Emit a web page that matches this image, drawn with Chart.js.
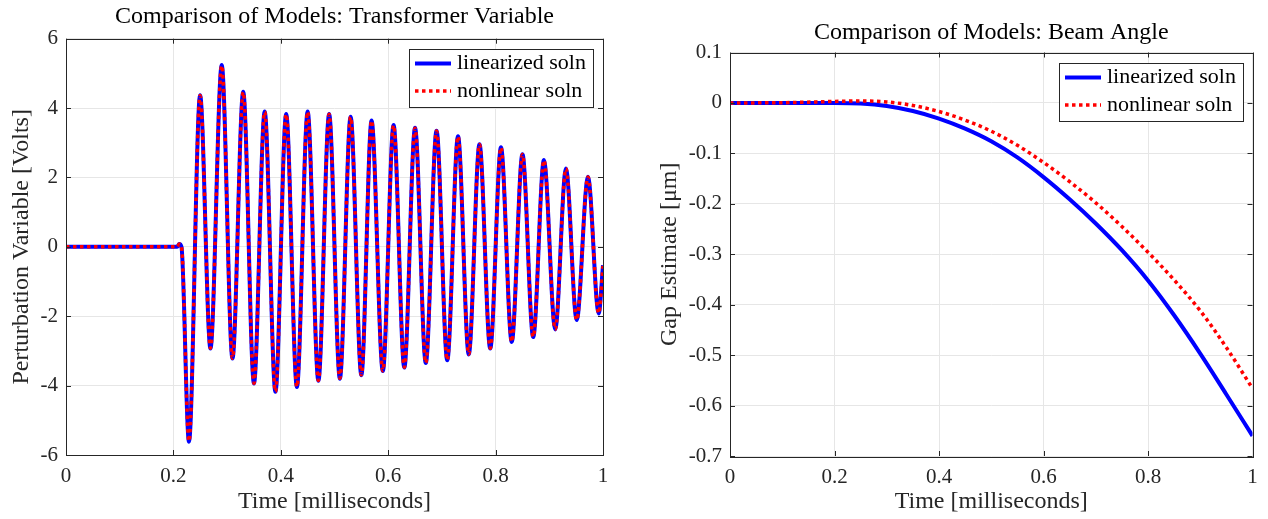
<!DOCTYPE html>
<html>
<head>
<meta charset="utf-8">
<title>Comparison of Models</title>
<script src="https://cdn.jsdelivr.net/npm/chart.js@4.4.1/dist/chart.umd.min.js"></script>
<style>
    html, body { margin: 0; padding: 0; background: #fff; }
    .panel { position: absolute; top: 0; width: 634px; height: 519px; }
    #left-panel { left: 0; }
    #right-panel { left: 634px; }
</style>
</head>
<body>
<div class="panel" id="left-panel"><canvas id="transformer-chart"></canvas></div>
<div class="panel" id="right-panel"><canvas id="beam-chart"></canvas></div>
<script>
const SERIF = "'Liberation Serif', 'DejaVu Serif', serif";
const AXIS_COLOR = "#262626";
const GRID_COLOR = "#e6e6e6";

// left panel: perturbation variable [Volts] vs time [ms] (turning points of the ringing)
const transformerTime = [
    0, 0.207, 0.211, 0.215,
    0.229, 0.2497, 0.269, 0.290, 0.310, 0.330, 0.350, 0.370, 0.390, 0.410,
    0.430, 0.450, 0.470, 0.490, 0.510, 0.530, 0.550, 0.569, 0.590, 0.610,
    0.630, 0.650, 0.670, 0.690, 0.710, 0.730, 0.750, 0.770, 0.790, 0.810,
    0.830, 0.850, 0.870, 0.890, 0.911, 0.931, 0.951, 0.972, 0.992, 1.0
];
const transformerLinear = [
    0, 0, 0.08, 0,
    -5.62, 4.37, -2.93, 5.24, -3.22, 4.47, -3.94, 3.90, -4.18, 3.83,
    -4.04, 3.90, -3.86, 3.83, -3.80, 3.75, -3.70, 3.64, -3.58, 3.51,
    -3.48, 3.43, -3.35, 3.35, -3.27, 3.19, -3.10, 2.96, -2.93, 2.87,
    -2.74, 2.67, -2.60, 2.50, -2.38, 2.26, -2.11, 2.02, -1.92, -0.53
];
const transformerNonlinear = [
    0, 0, 0.08, 0,
    -5.60, 4.36, -2.92, 5.22, -3.21, 4.46, -3.93, 3.89, -4.17, 3.82,
    -4.03, 3.89, -3.85, 3.82, -3.79, 3.74, -3.69, 3.63, -3.57, 3.50,
    -3.47, 3.42, -3.34, 3.34, -3.26, 3.18, -3.09, 2.95, -2.92, 2.86,
    -2.73, 2.66, -2.59, 2.49, -2.37, 2.25, -2.10, 2.01, -1.91, -0.55
];

// right panel: gap estimate [um] vs time [ms]
const beamTime = [0, 0.1, 0.2, 0.25, 0.3, 0.35, 0.4, 0.45, 0.5, 0.55, 0.6, 0.65, 0.7, 0.75, 0.8, 0.85, 0.9, 0.95, 1.0];
const beamLinear = [0, 0, 0, -0.001, -0.006, -0.016, -0.031, -0.051, -0.076, -0.108, -0.147, -0.191, -0.239, -0.292, -0.352, -0.421, -0.497, -0.578, -0.660];
const beamNonlinear = [0, 0.0005, 0.003, 0.004, 0.002, -0.005, -0.017, -0.034, -0.056, -0.084, -0.118, -0.156, -0.198, -0.245, -0.296, -0.351, -0.412, -0.485, -0.566];

const timeTicks = [0, 0.2, 0.4, 0.6, 0.8, 1];
const transformerTicks = [-6, -4, -2, 0, 2, 4, 6];
const beamTicks = [-0.7, -0.6, -0.5, -0.4, -0.3, -0.2, -0.1, 0, 0.1];

function toPoints(xs, ys) {
    return xs.map((x, i) => ({ x: x, y: ys[i] }));
}

function fmt(v) {
    return String(+Number(v).toFixed(1));
}

// matlab style box with inward tick marks
const axesBox = {
    id: "axesBox",
    afterDatasetsDraw(chart) {
        const { ctx, chartArea: a, scales } = chart;
        ctx.save();
        ctx.strokeStyle = AXIS_COLOR;
        ctx.lineWidth = 1;
        ctx.beginPath();
        scales.x.ticks.forEach(t => {
            const px = Math.round(scales.x.getPixelForValue(t.value)) + 0.5;
            ctx.moveTo(px, a.bottom); ctx.lineTo(px, a.bottom - 5);
            ctx.moveTo(px, a.top); ctx.lineTo(px, a.top + 5);
        });
        scales.y.ticks.forEach(t => {
            const py = Math.round(scales.y.getPixelForValue(t.value)) + 0.5;
            ctx.moveTo(a.left, py); ctx.lineTo(a.left + 5, py);
            ctx.moveTo(a.right, py); ctx.lineTo(a.right - 5, py);
        });
        ctx.stroke();
        ctx.strokeRect(Math.round(a.left) + 0.5, Math.round(a.top) + 0.5, Math.round(a.right - a.left), Math.round(a.bottom - a.top));
        ctx.restore();
    }
};

const insideLegend = {
    id: "insideLegend",
    afterDraw(chart) {
        const { ctx, chartArea: a } = chart;
        const sets = chart.data.datasets;
        ctx.save();
        ctx.font = "22px " + SERIF;
        const textW = Math.max(...sets.map(d => ctx.measureText(d.label).width));
        const w = Math.round(6 + 36 + 6 + textW + 7);
        const h = 58;
        const x = Math.round(a.right - 10 - w);
        const y = Math.round(a.top + 10);
        ctx.fillStyle = "#fff";
        ctx.fillRect(x, y, w, h);
        ctx.strokeStyle = AXIS_COLOR;
        ctx.lineWidth = 1;
        ctx.strokeRect(x + 0.5, y + 0.5, w, h);
        sets.forEach((d, i) => {
            const rowY = y + 14.5 + i * 27.5;
            ctx.beginPath();
            ctx.setLineDash(d.borderDash || []);
            ctx.strokeStyle = d.borderColor;
            ctx.lineWidth = d.borderWidth;
            ctx.moveTo(x + 6, rowY);
            ctx.lineTo(x + 42, rowY);
            ctx.stroke();
            ctx.setLineDash([]);
            ctx.fillStyle = "#000";
            ctx.textAlign = "left";
            ctx.textBaseline = "middle";
            ctx.fillText(d.label, x + 48, rowY);
        });
        ctx.restore();
    }
};

function makeChart(canvasId, cfg) {
    return new Chart(document.getElementById(canvasId), {
        type: "line",
        data: {
            datasets: [
                { label: "linearized soln", data: toPoints(cfg.time, cfg.linear), borderColor: "#0000ff", borderWidth: 4, order: 1 },
                { label: "nonlinear soln", data: toPoints(cfg.time, cfg.nonlinear), borderColor: "#ff0000", borderWidth: 3.5, borderDash: [3.5, 3.5], order: 0 }
            ]
        },
        options: {
            responsive: true,
            maintainAspectRatio: false,
            animation: false,
            events: [],
            layout: { padding: { left: 0, right: cfg.padRight, top: 0, bottom: 0 } },
            elements: {
                point: { radius: 0 },
                line: { cubicInterpolationMode: "monotone", fill: false, borderCapStyle: "butt" }
            },
            plugins: {
                legend: { display: false },
                tooltip: { enabled: false },
                title: {
                    display: true,
                    fullSize: false,
                    text: cfg.title,
                    color: "#000",
                    font: { family: SERIF, size: 24, weight: "normal" },
                    padding: cfg.titlePad
                }
            },
            scales: {
                x: {
                    type: "linear",
                    min: 0,
                    max: 1,
                    afterBuildTicks: s => { s.ticks = timeTicks.map(v => ({ value: v })); },
                    afterFit: s => { s.height = cfg.xAxisHeight; },
                    grid: { color: GRID_COLOR, drawTicks: false },
                    border: { display: false },
                    ticks: { color: AXIS_COLOR, font: { family: SERIF, size: 21 }, padding: 9, maxRotation: 0, callback: fmt },
                    title: {
                        display: true,
                        text: "Time [milliseconds]",
                        color: AXIS_COLOR,
                        font: { family: SERIF, size: 24 },
                        padding: { top: 0, bottom: 2.6 }
                    }
                },
                y: {
                    min: cfg.yTicks[0],
                    max: cfg.yTicks[cfg.yTicks.length - 1],
                    afterBuildTicks: s => { s.ticks = cfg.yTicks.map(v => ({ value: v })); },
                    afterFit: s => { s.width = cfg.yAxisWidth; },
                    grid: { color: GRID_COLOR, drawTicks: false },
                    border: { display: false },
                    ticks: { color: AXIS_COLOR, font: { family: SERIF, size: 21 }, padding: 8, callback: fmt },
                    title: {
                        display: true,
                        text: cfg.yTitle,
                        color: AXIS_COLOR,
                        font: { family: SERIF, size: 24 },
                        padding: { top: cfg.yTitlePad, bottom: 0 }
                    }
                }
            }
        },
        plugins: [axesBox, insideLegend]
    });
}

window.addEventListener("DOMContentLoaded", () => {
    makeChart("transformer-chart", {
        title: "Comparison of Models: Transformer Variable",
        titlePad: { top: 2.6, bottom: 7.3 },
        yTitle: "Perturbation Variable [Volts]",
        yTitlePad: 7.6,
        time: transformerTime,
        linear: transformerLinear,
        nonlinear: transformerNonlinear,
        yTicks: transformerTicks,
        yAxisWidth: 66,
        xAxisHeight: 64,
        padRight: 31
    });

    makeChart("beam-chart", {
        title: "Comparison of Models: Beam Angle",
        titlePad: { top: 18.6, bottom: 5.1 },
        yTitle: "Gap Estimate [\u03bcm]",
        yTitlePad: 21.6,
        time: beamTime,
        linear: beamLinear,
        nonlinear: beamNonlinear,
        yTicks: beamTicks,
        yAxisWidth: 96,
        xAxisHeight: 63,
        padRight: 15.5
    });
});
</script>
</body>
</html>
